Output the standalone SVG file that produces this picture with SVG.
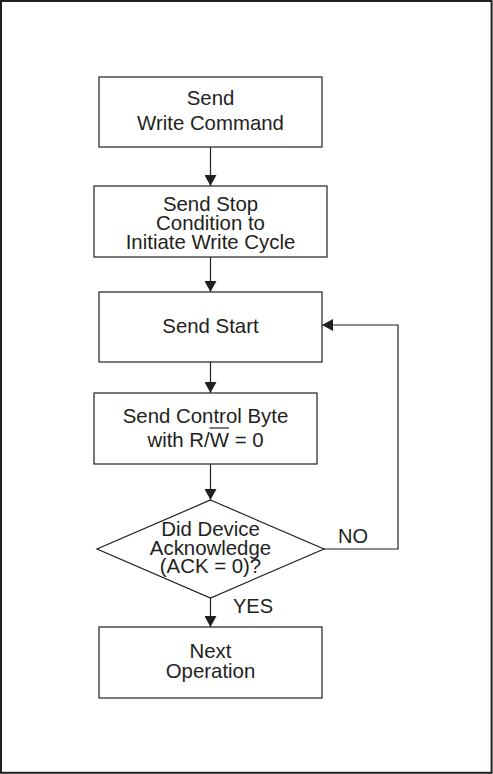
<svg xmlns="http://www.w3.org/2000/svg" width="493" height="774" viewBox="0 0 493 774">
  <style>
    .box { fill: #ffffff; stroke: #231f20; stroke-width: 1.2; }
    .t { font-family: "Liberation Sans", Arial, sans-serif; font-size: 20.4px; fill: #231f20; text-anchor: middle; }
    .lbl { font-family: "Liberation Sans", Arial, sans-serif; font-size: 20px; fill: #231f20; }
    .conn { fill: none; stroke: #231f20; stroke-width: 1.2; }
  </style>
  <defs>
    <marker id="arrow" markerUnits="userSpaceOnUse" markerWidth="14" markerHeight="12" refX="11" refY="6" orient="auto">
      <path d="M0,0 L11,6 L0,12 Z" fill="#231f20"/>
    </marker>
  </defs>
  <rect x="1" y="1" width="490.6" height="771.8" fill="#ffffff" stroke="#231f20" stroke-width="2"/>

  <g id="connectors">
    <line class="conn" x1="210.5" y1="147" x2="210.5" y2="186" marker-end="url(#arrow)"/>
    <line class="conn" x1="210.5" y1="257" x2="210.5" y2="292" marker-end="url(#arrow)"/>
    <line class="conn" x1="210.5" y1="362" x2="210.5" y2="393" marker-end="url(#arrow)"/>
    <line class="conn" x1="210.5" y1="464" x2="210.5" y2="500" marker-end="url(#arrow)"/>
    <line class="conn" x1="210.5" y1="598" x2="210.5" y2="627" marker-end="url(#arrow)"/>
    <polyline class="conn" points="323,549 398,549 398,325 322,325" marker-end="url(#arrow)"/>
    <text class="lbl" x="338" y="543">NO</text>
    <text class="lbl" x="233" y="613">YES</text>
  </g>

  <g id="send-write-command">
    <rect class="box" x="99" y="77" width="223" height="70"/>
    <text class="t" x="210.5" y="105">Send</text>
    <text class="t" x="210.5" y="130">Write Command</text>
  </g>

  <g id="send-stop">
    <rect class="box" x="94" y="186" width="233" height="71"/>
    <text class="t" x="210.5" y="211">Send Stop</text>
    <text class="t" x="210.5" y="230">Condition to</text>
    <text class="t" x="210.5" y="249">Initiate Write Cycle</text>
  </g>

  <g id="send-start">
    <rect class="box" x="99" y="292" width="223" height="70"/>
    <text class="t" x="210.5" y="333">Send Start</text>
  </g>

  <g id="send-control-byte">
    <rect class="box" x="94" y="393" width="223" height="71"/>
    <text class="t" x="205.5" y="423">Send Control Byte</text>
    <text class="t" x="205.5" y="447">with R/W = 0</text>
    <line x1="209.5" y1="428" x2="229" y2="428" stroke="#231f20" stroke-width="1.2"/>
  </g>

  <g id="did-device-ack">
    <polygon class="box" points="210.5,500 324,549 210.5,598 97,549"/>
    <text class="t" x="210.5" y="536">Did Device</text>
    <text class="t" x="210.5" y="554.5">Acknowledge</text>
    <text class="t" x="210.5" y="573">(ACK = 0)?</text>
  </g>

  <g id="next-operation">
    <rect class="box" x="99" y="627" width="223" height="71"/>
    <text class="t" x="210.5" y="658">Next</text>
    <text class="t" x="210.5" y="678">Operation</text>
  </g>
</svg>
